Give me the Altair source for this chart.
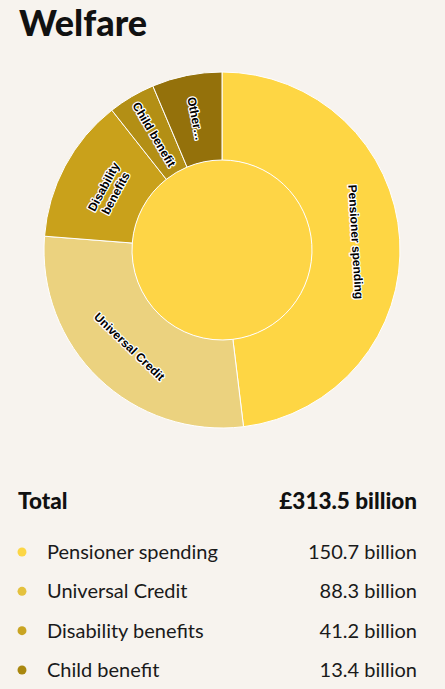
import altair as alt
import pandas as pd

# ---- data ----
categories = ["Pensioner spending", "Universal Credit", "Disability benefits", "Child benefit", "Other…"]
ring_labels = ["Pensioner spending", "Universal Credit", "Disability\nbenefits", "Child benefit", "Other…"]
values = [150.7, 88.3, 41.2, 13.4, 19.9]
total_value = 313.5
total_label = "£313.5 billion"
table_names = ["Pensioner spending", "Universal Credit", "Disability benefits", "Child benefit"]
table_values = ["150.7 billion", "88.3 billion", "41.2 billion", "13.4 billion"]

ring_colors = ["#FED644", "#EBD27F", "#C9A11B", "#B38F15", "#94710B"]
dot_colors = ["#FCD645", "#E4C13D", "#C9A422", "#A9870F"]
inner_color = "#FED546"
bg = "#F7F3EE"

CX, CY = 222, 250
R_IN, R_OUT = 90, 178
R_LABEL = 134

ring_df = pd.DataFrame({
    "category": categories,
    "label": ring_labels,
    "value": values,
    "order": list(range(len(categories))),
})
inner_df = pd.DataFrame({"value": [total_value]})
table_df = pd.DataFrame({
    "name": table_names,
    "amount": table_values,
    "dot": dot_colors,
    "row": list(range(len(table_names))),
})
total_df = pd.DataFrame({"name": ["Total"], "amount": [total_label]})
title_df = pd.DataFrame({"t": ["Welfare"]})

theta_scale = alt.Scale(domain=[0, total_value])

inner = alt.Chart(inner_df).mark_arc(radius=R_IN, color=inner_color).encode(
    theta=alt.Theta("value:Q", scale=theta_scale, stack=True),
    x=alt.value(CX), y=alt.value(CY),
)

ring = alt.Chart(ring_df).mark_arc(
    innerRadius=R_IN, radius=R_OUT, stroke="white", strokeWidth=1
).encode(
    theta=alt.Theta("value:Q", scale=theta_scale, stack=True),
    color=alt.Color("category:N", scale=alt.Scale(domain=categories, range=ring_colors), legend=None),
    order=alt.Order("order:Q"),
    x=alt.value(CX), y=alt.value(CY),
)

label_base = alt.Chart(ring_df).transform_window(
    cum="sum(value)", sort=[alt.SortField("order")]
).transform_calculate(
    mid="datum.cum - datum.value / 2",
).transform_calculate(
    deg=f"datum.mid / {total_value} * 360",
    frac=f"datum.value / {total_value}",
).transform_calculate(
    base="datum.frac < 0.1 ? datum.deg - 90 : datum.deg",
).transform_calculate(
    norm="(datum.base + 360) % 360",
).transform_calculate(
    rot="(datum.norm > 90 && datum.norm < 270) ? (datum.norm + 180) % 360 : datum.norm",
)

label_enc = dict(
    theta=alt.Theta("mid:Q", scale=theta_scale, stack=None),
    angle=alt.Angle("rot:Q", scale=None),
    text=alt.Text("label:N"),
    x=alt.value(CX), y=alt.value(CY),
)

halo = label_base.mark_text(
    radius=R_LABEL, font="Liberation Sans", fontSize=12, fontWeight="bold",
    fill="white", stroke="white", strokeWidth=2.5, strokeJoin="round",
    lineBreak="\n", lineHeight=13.5, align="center", baseline="middle",
).encode(**label_enc)

labels = label_base.mark_text(
    radius=R_LABEL, font="Liberation Sans", fontSize=12, fontWeight="bold",
    color="black", lineBreak="\n", lineHeight=13.5, align="center", baseline="middle",
).encode(**label_enc)

title = alt.Chart(title_df).mark_text(
    font="Lato", fontSize=36, fontWeight=900, color="#111111",
    align="left", baseline="alphabetic",
).encode(text="t:N", x=alt.value(19), y=alt.value(36))

total_name = alt.Chart(total_df).mark_text(
    font="Lato", fontSize=22.5, fontWeight=900, color="#111111",
    align="left", baseline="alphabetic",
).encode(text="name:N", x=alt.value(18), y=alt.value(509))

total_amt = alt.Chart(total_df).mark_text(
    font="Lato", fontSize=22.5, fontWeight=900, color="#111111",
    align="right", baseline="alphabetic",
).encode(text="amount:N", x=alt.value(417), y=alt.value(509))

row_y = alt.Y("row:O", scale=alt.Scale(type="point", range=[559, 677], padding=0), axis=None)

dots = alt.Chart(table_df).mark_circle(size=80, opacity=1, yOffset=-7).encode(
    x=alt.value(22), y=row_y, fill=alt.Fill("dot:N", scale=None),
)

names = alt.Chart(table_df).mark_text(
    font="Lato", fontSize=20, color="#1a1a1a", align="left", baseline="alphabetic",
).encode(text="name:N", x=alt.value(47), y=row_y)

amounts = alt.Chart(table_df).mark_text(
    font="Lato", fontSize=20, color="#1a1a1a", align="right", baseline="alphabetic",
).encode(text="amount:N", x=alt.value(417), y=row_y)

chart = alt.layer(
    inner, ring, halo, labels, title, total_name, total_amt, dots, names, amounts
).properties(
    width=445, height=689,
    autosize=alt.AutoSizeParams(type="none"),
    padding=0,
    background=bg,
).configure_view(stroke=None)

chart.save("out.html", embed_options={"renderer": "svg", "actions": False})
